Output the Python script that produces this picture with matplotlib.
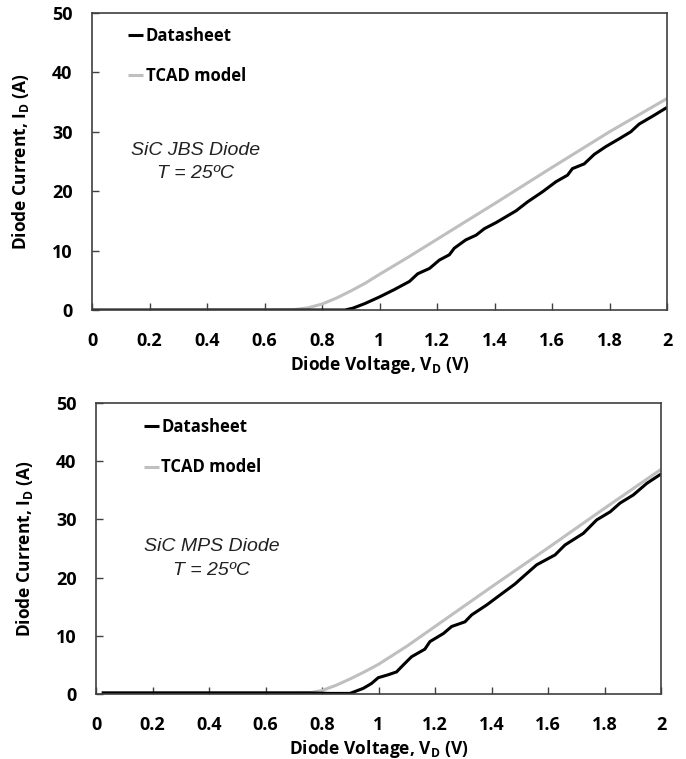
import matplotlib
matplotlib.use("Agg")
import matplotlib.pyplot as plt

plt.rcParams['font.family'] = ['Open Sans', 'DejaVu Sans']
plt.rcParams['mathtext.fontset'] = 'custom'
plt.rcParams['mathtext.rm'] = 'Open Sans:bold'
plt.rcParams['mathtext.bf'] = 'Open Sans:bold'

# ---- Top panel: SiC JBS diode ----
jbs_ds_v = [0.0, 0.2, 0.5, 0.8, 0.83, 0.88, 0.907, 0.95, 1.0, 1.05, 1.104, 1.133, 1.174, 1.208, 1.243,
            1.26, 1.30, 1.336, 1.365, 1.405, 1.44, 1.475, 1.515, 1.567, 1.614, 1.654, 1.671,
            1.712, 1.747, 1.787, 1.833, 1.874, 1.903, 1.949, 2.0]
jbs_ds_i = [0.0, 0.0, 0.0, 0.0, 0.0, 0.0, 0.3, 1.1, 2.2, 3.4, 4.8, 6.1, 7.0, 8.4, 9.3,
            10.4, 11.8, 12.6, 13.7, 14.7, 15.7, 16.7, 18.2, 19.9, 21.6, 22.7, 23.8,
            24.6, 26.2, 27.5, 28.8, 30.0, 31.3, 32.6, 34.1]
jbs_tcad_v = [0.2, 0.4, 0.6, 0.7, 0.75, 0.8, 0.85, 0.9, 0.95, 1.0, 1.1, 1.2, 1.4, 1.6, 1.8, 2.0]
jbs_tcad_i = [0.0, 0.0, 0.0, 0.05, 0.35, 1.0, 2.0, 3.2, 4.5, 6.0, 8.9, 11.9, 17.9, 24.0, 30.0, 35.6]

# ---- Bottom panel: SiC MPS diode ----
mps_ds_v = [0.02, 0.2, 0.5, 0.75, 0.828, 0.899, 0.946, 0.975, 0.999, 1.034, 1.064, 1.088, 1.117,
            1.164, 1.182, 1.23, 1.259, 1.306, 1.33, 1.383, 1.43, 1.483, 1.513, 1.56, 1.625,
            1.66, 1.725, 1.772, 1.82, 1.855, 1.902, 1.95, 2.0]
mps_ds_i = [0.2, 0.2, 0.2, 0.2, 0.1, 0.1, 0.97, 1.8, 2.8, 3.3, 3.8, 5.0, 6.4,
            7.7, 9.0, 10.4, 11.6, 12.4, 13.6, 15.3, 17.0, 18.9, 20.2, 22.2, 23.9,
            25.6, 27.6, 29.9, 31.3, 32.8, 34.2, 36.2, 37.8]
mps_tcad_v = [0.2, 0.4, 0.6, 0.7, 0.75, 0.8, 0.85, 0.9, 0.95, 1.0, 1.1, 1.2, 1.4, 1.6, 1.8, 2.0]
mps_tcad_i = [0.1, 0.1, 0.1, 0.1, 0.15, 0.6, 1.5, 2.6, 3.8, 5.1, 8.2, 11.6, 18.4, 25.1, 31.9, 38.6]

x_ticks = [0, 0.2, 0.4, 0.6, 0.8, 1.0, 1.2, 1.4, 1.6, 1.8, 2.0]
x_tick_labels = ['0', '0.2', '0.4', '0.6', '0.8', '1', '1.2', '1.4', '1.6', '1.8', '2']
y_ticks = [0, 10, 20, 30, 40, 50]
series_labels = ['Datasheet', 'TCAD model']

BLACK = '#000000'
GRAY = '#BFBFBF'

fig = plt.figure(figsize=(6.86, 7.59), dpi=100)
ax1 = fig.add_axes([92/686, 1-310/759, (667-92)/686, (310-13)/759])
ax2 = fig.add_axes([96/686, 1-694/759, (661-96)/686, (694-403)/759])

panels = [
    (ax1, jbs_ds_v, jbs_ds_i, jbs_tcad_v, jbs_tcad_i, 'SiC JBS Diode', (0.36, 26.9, 23.0), (0.037, 1.005)),
    (ax2, mps_ds_v, mps_ds_i, mps_tcad_v, mps_tcad_i, 'SiC MPS Diode', (0.41, 25.3, 21.3), (0.058, 1.0)),
]

for ax, dv, di, tv, ti, title, tpos, lpos in panels:
    ax.plot(tv, ti, color=GRAY, lw=2.2, label=series_labels[1], solid_capstyle='butt')
    ax.plot(dv, di, color=BLACK, lw=2.2, label=series_labels[0], solid_capstyle='butt')
    ax.set_xlim(0, 2)
    ax.set_ylim(0, 50)
    ax.set_xticks(x_ticks)
    ax.set_xticklabels(x_tick_labels)
    ax.set_yticks(y_ticks)
    ax.tick_params(direction='in', length=5, width=1.0, color='#404040', labelsize=13)
    ax.tick_params(axis='x', pad=16)
    ax.tick_params(axis='y', pad=14)
    for lab in ax.get_xticklabels() + ax.get_yticklabels():
        lab.set_fontweight('bold')
    for s in ax.spines.values():
        s.set_color('#404040')
        s.set_linewidth(1.2)
    ax.set_xlabel(r'Diode Voltage, V$_\mathrm{D}$ (V)', fontsize=12.5, fontweight='bold', labelpad=3)
    ax.set_ylabel(r'Diode Current, I$_\mathrm{D}$ (A)', fontsize=12.5, fontweight='bold', labelpad=15)
    ax.text(tpos[0], tpos[1], title, ha='center', va='center', fontsize=14,
            style='italic', family='Liberation Sans', color='#222222')
    ax.text(tpos[0], tpos[2], 'T = 25ºC', ha='center', va='center', fontsize=14,
            style='italic', family='Liberation Sans', color='#222222')
    h, l = ax.get_legend_handles_labels()
    leg = ax.legend(h[::-1], l[::-1], loc='upper left', bbox_to_anchor=lpos, frameon=False,
                    handlelength=0.9, handletextpad=0.15, labelspacing=1.35,
                    prop={'weight': 'bold', 'size': 12})

fig.savefig('out.png', dpi=100)
